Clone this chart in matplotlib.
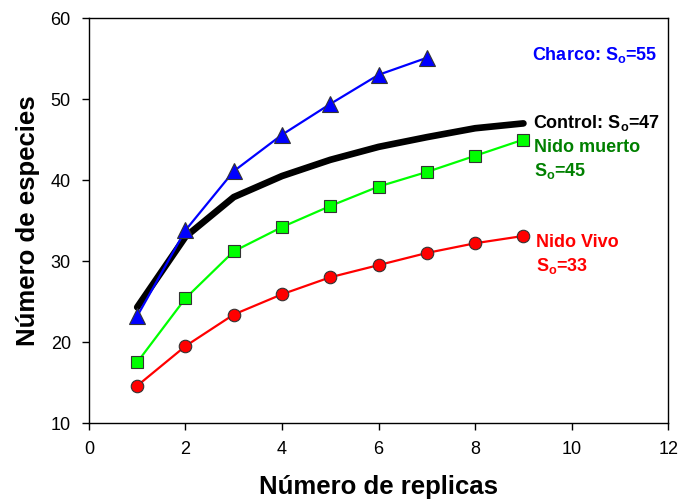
import matplotlib.pyplot as plt

plt.rcParams["font.family"] = ["Liberation Sans", "DejaVu Sans"]
plt.rcParams["mathtext.fontset"] = "custom"
plt.rcParams["mathtext.rm"] = "Liberation Sans"
plt.rcParams["mathtext.bf"] = "Liberation Sans:bold"

# Curvas de acumulación de especies
replicas_charco = [1, 2, 3, 4, 5, 6, 7]
charco = [23.2, 33.8, 41.1, 45.6, 49.4, 53.0, 55.1]

replicas = [1, 2, 3, 4, 5, 6, 7, 8, 9]
control = [24.3, 33.0, 37.9, 40.5, 42.5, 44.1, 45.3, 46.4, 47.0]
nido_muerto = [17.5, 25.4, 31.2, 34.2, 36.8, 39.2, 41.0, 43.0, 45.0]
nido_vivo = [14.6, 19.5, 23.4, 25.9, 28.0, 29.5, 31.0, 32.2, 33.1]

fig = plt.figure(figsize=(6.84, 5.03), dpi=100)
ax = fig.add_axes([0.130, 0.159, 0.847, 0.805])

ax.plot(replicas, control, color="black", lw=4.8, solid_capstyle="round", zorder=2)
ax.plot(replicas_charco, charco, color="#0000ff", lw=1.6, marker="^", ms=11,
        mfc="#0000ff", mec="#333333", mew=0.8, zorder=3)
ax.plot(replicas, nido_muerto, color="#00ff00", lw=1.6, marker="s", ms=8.5,
        mfc="#00ff00", mec="#333333", mew=0.8, zorder=3)
ax.plot(replicas, nido_vivo, color="#ff0000", lw=1.6, marker="o", ms=9,
        mfc="#ff0000", mec="#333333", mew=0.8, zorder=3)

# etiquetas
kw = dict(fontsize=13, fontweight="bold", va="center", ha="left")
ax.text(9.18, 55.4, r"Charco: S$_\mathbf{o}$=55", color="#0000ff", **kw)
ax.text(9.2, 47.1, r"Control: S$_\mathbf{o}$=47", color="black", **kw)
ax.text(9.22, 44.0, "Nido muerto", color="#008000", **kw)
ax.text(9.22, 41.1, r"S$_\mathbf{o}$=45", color="#008000", **kw)
ax.text(9.25, 32.3, "Nido Vivo", color="#ff0000", **kw)
ax.text(9.25, 29.4, r"S$_\mathbf{o}$=33", color="#ff0000", **kw)

ax.set_xlim(0, 12)
ax.set_ylim(10, 60)
ax.set_xticks([0, 2, 4, 6, 8, 10, 12])
ax.set_yticks([10, 20, 30, 40, 50, 60])
ax.tick_params(direction="out", length=5, width=1, labelsize=13, pad=8)
for s in ax.spines.values():
    s.set_linewidth(1)

ax.set_xlabel("Número de replicas", fontsize=18.5, fontweight="bold", labelpad=12)
ax.set_ylabel("Número de especies", fontsize=18.5, fontweight="bold", labelpad=8)

fig.savefig("out.png", dpi=100)
